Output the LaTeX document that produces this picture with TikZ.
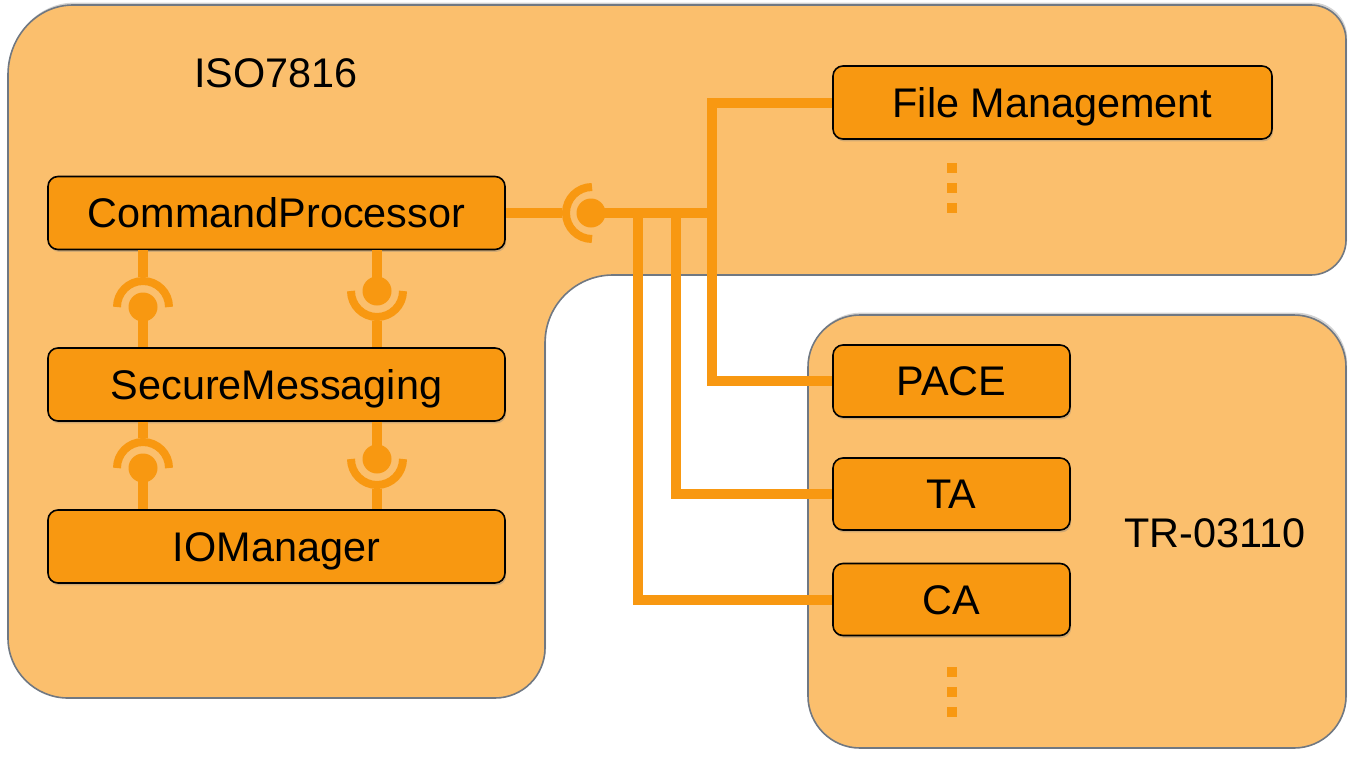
\documentclass[tikz,border=0pt]{standalone}
\usepackage{fontspec}
\setmainfont{Liberation Sans}
\usetikzlibrary{shadows}

\definecolor{cArea}{RGB}{251,191,109}
\definecolor{cBox}{RGB}{248,152,17}
\definecolor{cRim}{RGB}{112,120,130}

\begin{document}
\begin{tikzpicture}[x=0.5pt,y=0.5pt,yscale=-1,xscale=1,
  area/.style={fill=cArea,draw=cRim,line width=0.8pt,
    drop shadow={shadow xshift=0.6pt,shadow yshift=1.2pt,opacity=0.35}},
  comp/.style={rectangle,rounded corners=5pt,fill=cBox,draw=black,line width=0.8pt,
    inner sep=0pt,font=\fontsize{20.7}{24}\selectfont,text height=14.8pt,text depth=0pt,
    drop shadow={shadow xshift=0.6pt,shadow yshift=-1.2pt,opacity=0.35}},
  title/.style={font=\fontsize{20.7}{24}\selectfont,inner sep=0pt},
  bus/.style={draw=cBox,line width=5pt},
  sock/.style={draw=cBox,line width=4pt},
  ball/.style={circle,fill=cBox,inner sep=0pt,minimum size=14.5pt},
  hole/.style={circle,inner sep=0pt,minimum size=30pt},
  dot/.style={rectangle,fill=cBox,inner sep=0pt,minimum size=5pt}]
\useasboundingbox (0,0) rectangle (1353,760);

%Shape: ISO7816 area
\path[area] (73,5) -- (1311,5) .. controls (1330.3,5) and (1346,20.7) .. (1346,40)
  -- (1346,240) .. controls (1346,259.3) and (1330.3,275) .. (1311,275)
  -- (613,275) .. controls (575.4,275) and (545,305.4) .. (545,343)
  -- (545,648) .. controls (545,675.6) and (522.6,698) .. (495,698)
  -- (68,698) .. controls (34.9,698) and (8,671.1) .. (8,638)
  -- (8,75) .. controls (8,36.3) and (37.1,5) .. (73,5) -- cycle;
%Shape: TR-03110 area
\path[area,rounded corners=26pt] (808,315) rectangle (1346,748);

% Text Node
\node[title] (iso) at (276,73) {ISO7816};
% Text Node
\node[title] (tr) at (1215,533) {TR-03110};

%Components
\node[comp,minimum width=228.5pt,minimum height=36.5pt] (cmd) at (276.5,213) {CommandProcessor};
\node[comp,minimum width=228.5pt,minimum height=36.5pt] (sm) at (276.5,384.5) {SecureMessaging};
\node[comp,minimum width=228.5pt,minimum height=36.5pt] (io) at (276.5,546.5) {IOManager};
\node[comp,minimum width=219.5pt,minimum height=36.5pt] (fm) at (1052.5,102.5) {File Management};
\node[comp,minimum width=118.5pt,minimum height=36pt] (pace) at (951.5,381) {PACE};
\node[comp,minimum width=118.5pt,minimum height=36pt] (ta) at (951.5,494) {TA};
\node[comp,minimum width=118.5pt,minimum height=36pt] (ca) at (951.5,599.5) {CA};

%Interface: CommandProcessor to modules
\node[hole] (sk0) at (592,213) {};
\draw[bus] (cmd.east) -- (sk0.west);
\draw[sock] (sk0.center) ++(0,-26) arc[start angle=270,end angle=90,radius=26];
\coordinate (j1) at (638,213);
\coordinate (j2) at (676,213);
\coordinate (j3) at (712,213);
\draw[bus] (fm.west) -| (j3) |- (pace.west);
\draw[bus] (j2) |- (ta.west);
\draw[bus] (j1) |- (ca.west);
\node[ball] (b0) at (591,213) {};
\draw[bus] (b0.center) -- (j3);

%Interfaces: CommandProcessor / SecureMessaging
\node[hole] (sk1) at (143,307) {};
\node[ball] (b1) at (143,307) {};
\draw[bus] (sk1 |- cmd.south) -- (sk1.north);
\draw[sock] (sk1.center) ++(-26,0) arc[start angle=180,end angle=360,radius=26];
\draw[bus] (b1.center) -- (b1 |- sm.north);
\node[hole] (sk2) at (377,291) {};
\node[ball] (b2) at (377,291) {};
\draw[bus] (b2 |- cmd.south) -- (b2.center);
\draw[sock] (sk2.center) ++(-26,0) arc[start angle=180,end angle=0,radius=26];
\draw[bus] (sk2.south) -- (sk2 |- sm.north);

%Interfaces: SecureMessaging / IOManager
\node[hole] (sk3) at (143,468) {};
\node[ball] (b3) at (143,468) {};
\draw[bus] (sk3 |- sm.south) -- (sk3.north);
\draw[sock] (sk3.center) ++(-26,0) arc[start angle=180,end angle=360,radius=26];
\draw[bus] (b3.center) -- (b3 |- io.north);
\node[hole] (sk4) at (377,459) {};
\node[ball] (b4) at (377,459) {};
\draw[bus] (b4 |- sm.south) -- (b4.center);
\draw[sock] (sk4.center) ++(-26,0) arc[start angle=180,end angle=0,radius=26];
\draw[bus] (sk4.south) -- (sk4 |- io.north);

%Dots
\foreach \y in {168,188,208} \node[dot] (d\y) at (952,\y) {};
\foreach \y in {672,692,712} \node[dot] (d\y) at (952,\y) {};

\end{tikzpicture}
\end{document}
